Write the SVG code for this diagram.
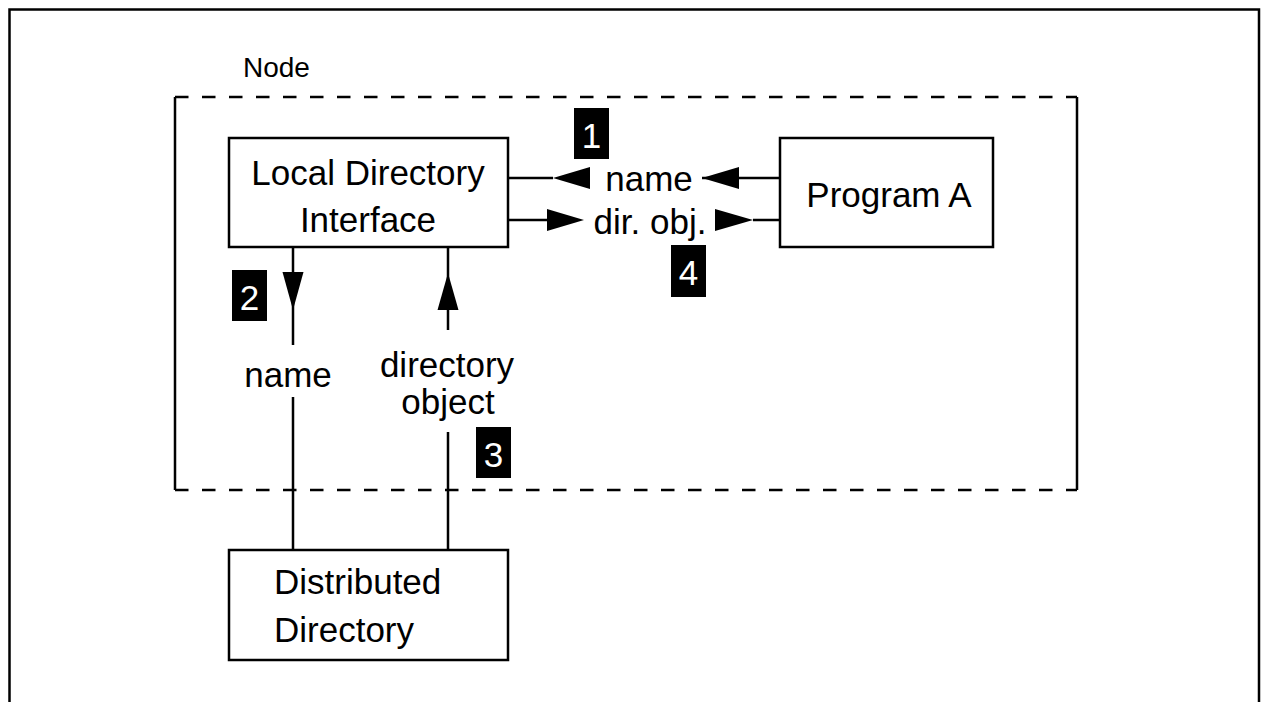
<svg xmlns="http://www.w3.org/2000/svg" width="1262" height="702" viewBox="0 0 1262 702">
<style>
text{font-family:"Liberation Sans",Arial,sans-serif;font-size:35px;fill:#000}
.box{fill:#fff;stroke:#000;stroke-width:2.5}
.ln{stroke:#000;stroke-width:2.5;fill:none}
.ah{fill:#000}
.tag{fill:#000}
.tagt{fill:#fff;text-anchor:middle}
.mid{text-anchor:middle}
</style>
<rect width="1262" height="702" fill="#fff"/>
<g id="frame">
<path d="M9.5,710 V9.5 H1259 V710" class="ln" stroke-width="3"/>
</g>
<g id="node">
<path d="M175,97 H1077 M175,490 H1077" class="ln" stroke-dasharray="13.5 13.5"/>
<path d="M175,97 V490 M1077,97 V490" class="ln"/>
<text x="243" y="77" style="font-size:28px">Node</text>
</g>
<g id="connectors">
<path d="M508,178 H553 M702,178 H780" class="ln"/>
<polygon class="ah" points="553,178 590,167 590,189"/>
<polygon class="ah" points="702,178 739,167 739,189"/>
<path d="M508,220 H547 M753,220 H780" class="ln"/>
<polygon class="ah" points="584,220 547,209 547,231"/>
<polygon class="ah" points="753,220 715,209 715,231"/>
<path d="M293,247 V345 M293,397 V550" class="ln"/>
<polygon class="ah" points="293,310 282.5,272 303.5,272"/>
<path d="M448,247 V330 M448,432 V550" class="ln"/>
<polygon class="ah" points="448,273 437.5,310 458.5,310"/>
<text x="649" y="191" class="mid">name</text>
<text x="650" y="234" class="mid">dir. obj.</text>
<text x="288" y="387" class="mid">name</text>
<text x="447" y="377" class="mid">directory</text>
<text x="448" y="414" class="mid">object</text>
</g>
<g id="ldi">
<rect class="box" x="229" y="138" width="279" height="109"/>
<text x="368" y="185" class="mid">Local Directory</text>
<text x="368" y="232" class="mid">Interface</text>
</g>
<g id="programA">
<rect class="box" x="780" y="138" width="213" height="109"/>
<text x="889" y="207" class="mid">Program A</text>
</g>
<g id="dd">
<rect class="box" x="229" y="550" width="279" height="110"/>
<text x="274" y="594">Distributed</text>
<text x="274" y="642">Directory</text>
</g>
<g id="tag1"><rect class="tag" x="574" y="108" width="35" height="51"/><text x="591.5" y="148" class="tagt">1</text></g>
<g id="tag2"><rect class="tag" x="232" y="270" width="35" height="51"/><text x="249.5" y="310" class="tagt">2</text></g>
<g id="tag3"><rect class="tag" x="476" y="427" width="35" height="51"/><text x="493.5" y="467" class="tagt">3</text></g>
<g id="tag4"><rect class="tag" x="671" y="245" width="35" height="52"/><text x="688.5" y="285" class="tagt">4</text></g>
</svg>
